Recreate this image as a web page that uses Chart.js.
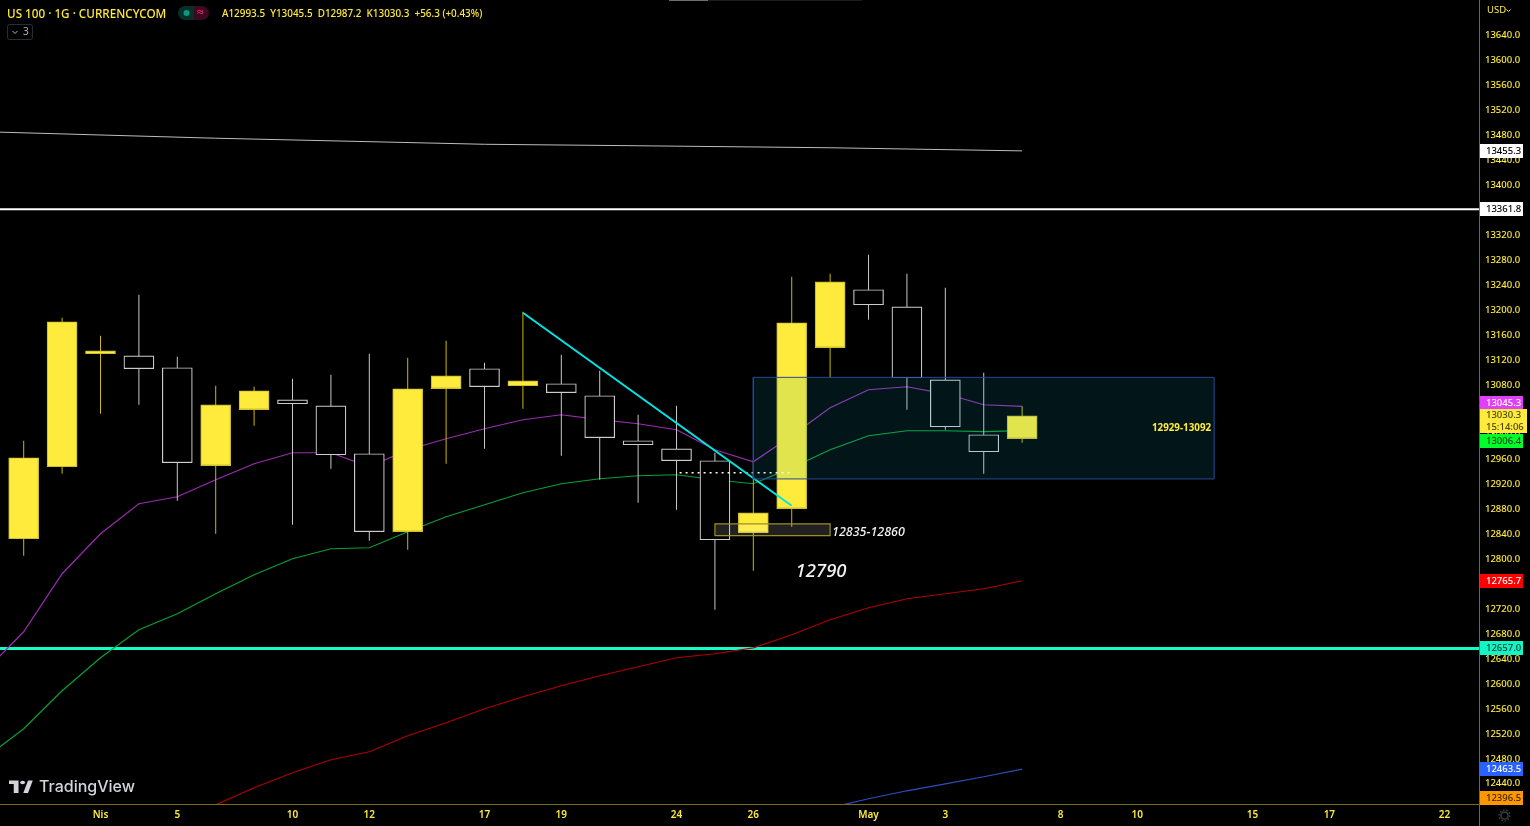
<!DOCTYPE html>
<html><head><meta charset="utf-8">
<style>html,body{margin:0;padding:0;background:#000;overflow:hidden}canvas{display:block}</style>
<script src="https://cdn.jsdelivr.net/npm/chart.js@4"></script>
</head><body><canvas id="c" width="1530" height="826"></canvas>
<script>
// ---- candles, one entry per trading day
const opens  = [12833.0,12948.5,13129.8,13126.6,13107.4,12950.2,13040.0,13056.0,13046.4,12969.4,12844.3,13073.7,13105.8,13078.5,13081.7,13062.5,12990.3,12977.4,12958.2,12842.7,12881.2,13139.5,13232.5,13205.2,13088.1,12999.9,12993.5];
const highs  = [12990.3,13187.6,13158.7,13224.5,13125.0,13078.5,13076.9,13089.7,13096.1,13129.8,13123.4,13150.7,13115.4,13197.2,13128.2,13102.6,13032.0,13046.4,12971.0,12958.2,13253.4,13258.2,13288.7,13258.2,13235.7,13099.4,13045.5];
const lows   = [12805.8,12937.3,13033.6,13048.0,12894.0,12841.0,13014.3,12855.5,12945.3,12829.8,12815.4,12953.4,12977.4,13041.6,12966.2,12927.7,12890.8,12879.6,12719.1,12781.7,12852.3,13091.3,13184.4,13040.0,13007.9,12937.3,12987.2];
const closes = [12963.0,13181.2,13134.6,13105.8,12955.0,13048.0,13070.5,13049.6,12967.8,12844.3,13073.7,13094.5,13076.9,13086.5,13067.3,12995.1,12983.8,12958.2,12831.4,12874.7,13179.6,13245.3,13208.4,13091.3,13012.7,12972.6,13030.3];
// ---- moving averages (index -1 starts just off the left edge)
const purpleIdx = [-1,0,1,2,3,4,5,6,7,8,9,10,11,12,13,14,15,16,17,18,19,20,21,22,23,24,25,26];
const purpleVal = [12621.3,12683.8,12776.9,12841.0,12889.2,12900.4,12927.7,12953.4,12971.0,12971.0,12948.5,12975.8,12993.5,13009.5,13024.0,13032.0,13024.0,13017.5,13007.9,12975.8,12956.6,12998.3,13043.2,13072.1,13076.9,13065.6,13048.0,13045.3];
const greenVal  = [12481.7,12528.2,12589.2,12642.1,12687.0,12712.7,12744.8,12775.3,12800.9,12817.0,12818.6,12844.3,12868.3,12887.6,12906.8,12921.3,12929.3,12934.1,12935.7,12927.7,12921.3,12947.0,12975.8,12998.3,13006.3,13006.3,13004.8,13006.4];
const redIdx = [4,5,6,7,8,9,10,11,12,13,14,15,16,17,18,19,20,21,22,23,24,25,26];
const redVal = [12380.6,12406.3,12433.6,12457.6,12478.5,12491.3,12517.0,12537.8,12560.3,12579.5,12597.2,12613.2,12627.7,12642.1,12648.5,12658.1,12679.0,12703.1,12722.3,12736.8,12744.8,12752.8,12765.7];
const blueIdx = [21,22,23,24,25,26];
const blueVal = [12401.5,12415.9,12428.7,12439.9,12451.2,12463.5];
const grayIdx = [-1,5,12,16,21,26];
const grayVal = [13486.0,13475.6,13465.9,13463.5,13460.3,13455.3];
// ---- drawings
const hWhite = 13361.8, hTeal = 12657.0;
const trendIdx = [13,20], trendVal = [13195.6,12886.0];
const dottedIdx = [17.08,20], dottedVal = [12939,12939];
const bigBoxIdx = [19,31], bigBoxVal = [12929,13092];
const smallBoxIdx = [18,21], smallBoxVal = [12838,12857];
// ---- axes
const xTickIdx = [2,4,7,9,12,14,17,19,22,24,27,29,32,34,37];
const xTickLabels = ['Nis','5','10','12','17','19','24','26','May','3','8','10','15','17','22'];
const yTicks = [12440,12480,12520,12560,12600,12640,12680,12720,12760,12800,12840,12880,12920,12960,13000,13040,13080,13120,13160,13200,13240,13280,13320,13360,13400,13440,13480,13520,13560,13600,13640];
// ---- price tags on the axis
const tagValues = [13455.3,13361.8,13045.3,13006.4,12765.7,12657.0,12463.5,12396.5];
const tagColors = ['#ffffff','#ffffff','#e040fb','#00ff2a','#ff0000','#14f5c4','#2962ff','#ff9800'];
const tagText   = ['#000000','#000000','#ffffff','#1a3a1a','#ffffff','#0a3a30','#ffffff','#3a2400'];
const tagShift  = [0,0,-3.5,10,0,0,0,0];
const lastPrice = '13030.3', countdown = '15:14:06';

const UI = '"Noto Sans"';
const YEL = '#ffeb3b';
const pts = (xs,ys)=>xs.map((x,i)=>({x,y:ys[i]}));
const seq = closes.map((_,i)=>i);
const isUp = seq.map(i=>closes[i]>=opens[i]);
const line = (data,color,width,order,extra)=>Object.assign({type:'line',data,borderColor:color,borderWidth:width,pointRadius:0,tension:0,fill:false,order},extra||{});
const boxPts = (xs,ys)=>pts([xs[0],xs[1],xs[1],xs[0],xs[0]],[ys[0],ys[0],ys[1],ys[1],ys[0]]);

const overlay = {
  id:'overlay',
  afterDraw(chart){
    const {ctx,scales:{x,y}} = chart;
    ctx.save();
    ctx.textBaseline='middle'; ctx.textAlign='left';
    // axis line continuing to the bottom
    ctx.fillStyle='#7a6e18'; ctx.fillRect(1479,804,1,22);
    // on-chart labels
    ctx.fillStyle='#f2f2f2';
    ctx.font='italic 500 12.5px '+UI;
    ctx.fillText('12835-12860',x.getPixelForValue(21.05),y.getPixelForValue(12842.5));
    ctx.font='italic 500 18.5px '+UI;
    ctx.fillText('12790',x.getPixelForValue(20.1),y.getPixelForValue(12780.5));
    ctx.fillStyle=YEL;
    ctx.font='bold 9.8px '+UI;
    ctx.fillText('12929-13092',x.getPixelForValue(29.38),y.getPixelForValue(13011));
    // header
    ctx.font='500 11.7px '+UI;
    ctx.fillText('US 100 · 1G · CURRENCYCOM',7,14.5);
    ctx.font='500 9.9px '+UI;
    ctx.fillText('A12993.5  Y13045.5  D12987.2  K13030.3  +56.3 (+0.43%)',222,14.5);
    // status pill
    ctx.fillStyle='#07302a'; ctx.beginPath(); ctx.roundRect(178,6,16,14,[7,0,0,7]); ctx.fill();
    ctx.fillStyle='#3a0a20'; ctx.beginPath(); ctx.roundRect(194,6,15,14,[0,7,7,0]); ctx.fill();
    ctx.fillStyle='#089981'; ctx.beginPath(); ctx.arc(186.5,13,3,0,7); ctx.fill();
    ctx.fillStyle='#e91e63'; ctx.font='bold 12px '+UI; ctx.fillText('≈',197,13);
    // collapse button
    ctx.strokeStyle='#2a2e39'; ctx.beginPath(); ctx.roundRect(7.5,24.5,25,15,2); ctx.stroke();
    ctx.strokeStyle='#b2b5be'; ctx.beginPath(); ctx.moveTo(12.5,31); ctx.lineTo(15,33.5); ctx.lineTo(17.5,31); ctx.stroke();
    ctx.fillStyle='#b2b5be'; ctx.font='10px '+UI; ctx.fillText('3',23,32.5);
    // scroll marker on the top edge
    ctx.fillStyle='#1c1c1c'; ctx.fillRect(669,0,193,1);
    ctx.fillStyle='#6e6e6e'; ctx.fillRect(669,0,39,1);
    // currency
    ctx.fillStyle=YEL; ctx.font='9.5px '+UI; ctx.fillText('USD',1487,10.5);
    ctx.strokeStyle=YEL; ctx.beginPath(); ctx.moveTo(1506.5,9.5); ctx.lineTo(1508.5,11.5); ctx.lineTo(1510.5,9.5); ctx.stroke();
    // watermark
    ctx.save();
    ctx.translate(9,780); ctx.scale(.68,.5);
    ctx.fillStyle='#d1d4dc';
    ctx.fill(new Path2D('M14 1H0v7h7v18h7V1z M28 26h-7l7-25h7l-7 25z'));
    ctx.beginPath(); ctx.arc(20,5,3.6,0,7); ctx.fill();
    ctx.restore();
    ctx.fillStyle='#d1d4dc'; ctx.font='500 16px Inter'; ctx.fillText('TradingView',39,787.5);
    // price tags
    ctx.font='500 9.5px '+UI;
    tagValues.forEach((v,i)=>{
      const cy=Math.min(y.getPixelForValue(v)+tagShift[i],798);
      ctx.fillStyle=tagColors[i]; ctx.fillRect(1480,Math.round(cy-7),43,14);
      ctx.fillStyle=tagText[i]; ctx.fillText(v.toFixed(1),1486,Math.round(cy)+.5);
    });
    ctx.fillStyle=YEL; ctx.fillRect(1480,409,47,24);
    ctx.fillStyle='#4a4410'; ctx.fillText(lastPrice,1486,415.5); ctx.fillText(countdown,1486,427);
    // settings gear
    ctx.strokeStyle='#3a3d45'; ctx.lineWidth=1.5;
    ctx.beginPath(); ctx.arc(1504.5,815.5,3.6,0,7); ctx.stroke();
    ctx.lineWidth=1.5; ctx.setLineDash([1.6,1.7]);
    ctx.beginPath(); ctx.arc(1504.5,815.5,5.4,0,7); ctx.stroke();
    ctx.restore();
  }
};

new Chart(document.getElementById('c'),{
  type:'bar',
  data:{datasets:[
    line(boxPts(bigBoxIdx,bigBoxVal),'#27489c',1,1,{fill:'shape',backgroundColor:'rgba(16,180,215,0.12)'}),
    line(boxPts(smallBoxIdx,smallBoxVal),'#9c8e25',1.2,2,{fill:'shape',backgroundColor:'rgba(255,255,255,0.13)'}),
    line(pts(trendIdx,trendVal),'#00e5e5',2,3),
    line(pts(dottedIdx,dottedVal),'#ffffff',1.5,3,{borderDash:[2,4]}),
    {type:'bar',data:seq.map(i=>({x:i,y:[opens[i],closes[i]]})),barThickness:30,grouped:false,order:5,borderSkipped:false,borderWidth:1.2,
      backgroundColor:seq.map(i=>isUp[i]?YEL:'#000000'),borderColor:seq.map(i=>isUp[i]?'#cfc030':'#cccccc')},
    {type:'bar',data:seq.map(i=>({x:i,y:[lows[i],highs[i]]})),barThickness:1,grouped:false,order:6,borderWidth:0,inflateAmount:0,
      backgroundColor:seq.map(i=>isUp[i]?'#cbb900':'#c8c8c8')},
    line(pts(purpleIdx,purpleVal),'#9a2cb0',1.2,7),
    line(pts(purpleIdx,greenVal),'#08a030',1.2,7),
    line(pts(redIdx,redVal),'#b00000',1.2,7),
    line(pts(blueIdx,blueVal),'#2b4fc0',1.2,7),
    line(pts(grayIdx,grayVal),'#bdbdbd',1,7),
    line(pts([-1,38],[hWhite,hWhite]),'#ffffff',2,8),
    line(pts([-1,38],[hTeal,hTeal]),'#14ffcc',3,8)
  ]},
  options:{
    responsive:false,animation:false,events:[],devicePixelRatio:1,
    layout:{padding:0},
    plugins:{legend:{display:false},tooltip:{enabled:false},title:{display:false}},
    scales:{
      x:{type:'linear',position:'bottom',min:-0.617,max:37.897,offset:false,
        grid:{display:false,drawTicks:false},border:{display:true,color:'#7a6e18',width:1},
        afterBuildTicks(s){s.ticks=xTickIdx.map(value=>({value}));},
        afterFit(s){s.height=22;s.paddingLeft=0;s.paddingRight=0;},
        ticks:{autoSkip:false,maxRotation:0,minRotation:0,color:YEL,padding:5,font:{family:'"Noto Sans"',size:10,weight:'600'},
          callback:v=>xTickLabels[xTickIdx.indexOf(v)]}},
      y:{type:'linear',position:'right',min:12407.5,max:13697.35,
        grid:{display:false,drawTicks:false},border:{display:true,color:'#7a6e18',width:1},
        afterBuildTicks(s){s.ticks=yTicks.map(value=>({value}));},
        afterFit(s){s.width=51;s.paddingTop=0;s.paddingBottom=0;},
        ticks:{autoSkip:false,color:YEL,padding:6,font:{family:'"Noto Sans"',size:9.5,weight:'500'},callback:v=>v.toFixed(1)}}
    }
  },
  plugins:[overlay]
});
</script></body></html>
